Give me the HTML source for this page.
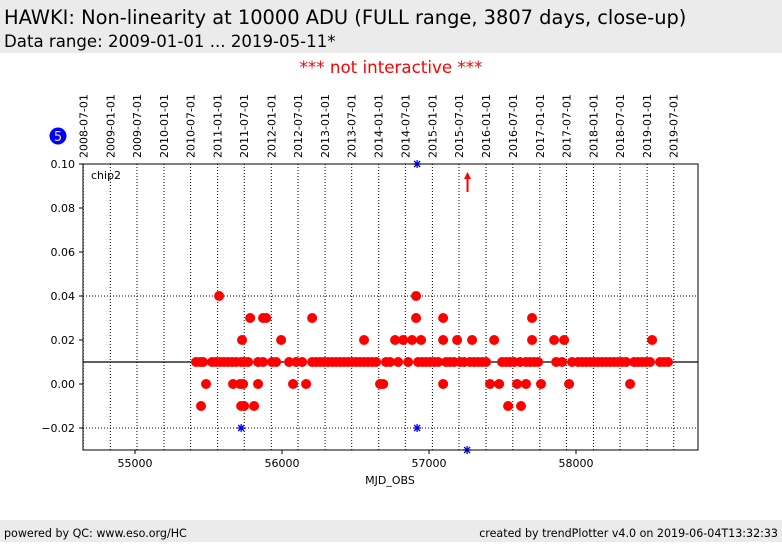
<!DOCTYPE html>
<html><head><meta charset="utf-8"><style>
body{margin:0;width:782px;height:542px;overflow:hidden;background:#fff;font-family:"DejaVu Sans","Liberation Sans",sans-serif;}
</style></head><body>
<svg id="c" width="782" height="542" xmlns="http://www.w3.org/2000/svg" font-family="DejaVu Sans, Liberation Sans, sans-serif">
<rect x="0" y="0" width="782" height="53" fill="#ebebeb"/>
<text x="4" y="24" font-size="19.4" fill="#000">HAWKI: Non-linearity at 10000 ADU (FULL range, 3807 days, close-up)</text>
<text x="4" y="47" font-size="16.6" fill="#000">Data range: 2009-01-01 ... 2019-05-11*</text>
<text x="391" y="73" font-size="16.7" fill="#ff0000" text-anchor="middle">*** not interactive ***</text>
<rect x="0" y="520" width="782" height="22" fill="#ebebeb"/>
<text x="4" y="537" font-size="11.1">powered by QC: www.eso.org/HC</text>
<text x="778" y="537" font-size="11.1" text-anchor="end">created by trendPlotter v4.0 on 2019-06-04T13:32:33</text>
<circle cx="58" cy="136" r="8.5" fill="#0000ff"/>
<text x="58" y="141" font-size="13" fill="#ffe066" text-anchor="middle">5</text>
<g id="grid"></g>
<g id="marks"></g>
<rect x="83" y="164" width="615" height="286" fill="none" stroke="#000" stroke-width="1"/>
<text x="91" y="179" font-size="11">chip2</text>
<text x="390" y="484" font-size="11" text-anchor="middle">MJD_OBS</text>
</svg>
<script>
const yTicks=[0.10,0.08,0.06,0.04,0.02,0.00,-0.02];
const yGrid=[0.04,-0.02];
const xTicks=[55000,56000,57000,58000];
const dateLabels=["2008-07-01","2009-01-01","2009-07-01","2010-01-01","2010-07-01","2011-01-01","2011-07-01","2012-01-01","2012-07-01","2013-01-01","2013-07-01","2014-01-01","2014-07-01","2015-01-01","2015-07-01","2016-01-01","2016-07-01","2017-01-01","2017-07-01","2018-01-01","2018-07-01","2019-01-01","2019-07-01"];
const refValue=0.01;
const mjd010=[55415,55443,55463,55524,55551,55579,55606,55633,55660,55688,55722,55742,55769,55837,55871,55932,55960,56048,56096,56137,56205,56232,56259,56286,56313,56341,56368,56395,56422,56449,56477,56504,56531,56558,56585,56613,56640,56708,56735,56790,56858,56926,56953,56980,57007,57035,57062,57116,57143,57170,57211,57239,57279,57307,57334,57361,57388,57497,57524,57552,57579,57620,57660,57688,57715,57742,57865,57905,57973,58014,58041,58069,58096,58123,58150,58177,58205,58232,58259,58286,58313,58341,58395,58422,58449,58477,58504,58572,58599,58626];
const mjd000=[55483,55667,55715,55735,55837,56075,56164,56667,56688,57096,57415,57477,57599,57660,57762,57953,58368];
const mjdm010=[55449,55722,55742,55810,57538,57626];
const mjd020=[55728,55994,56558,56769,56824,56885,56946,57096,57191,57293,57443,57701,57851,57919,58518];
const mjd030=[55783,55871,55892,56205,56912,57096,57701];
const mjd040=[55572,56912];
const outMjd=[55722,56919,56919,57259];
const outVal=[-0.02,-0.02,0.10,-0.03];
const arrowMjd=57262;

const X0=83,X1=698,Y0=164,Y1=450,XMIN=54646,XMAX=58830,YMIN=-0.03,YMAX=0.10;
const sx=m=>X0+(m-XMIN)/(XMAX-XMIN)*(X1-X0);
const sy=v=>Y1-(v-YMIN)/(YMAX-YMIN)*(Y1-Y0);
const NS="http://www.w3.org/2000/svg";
const grid=document.getElementById('grid'),marks=document.getElementById('marks'),svg=document.getElementById('c');
function mk(t,a,p){const e=document.createElementNS(NS,t);for(const k in a)e.setAttribute(k,a[k]);(p||svg).appendChild(e);return e;}
function dateToMjd(s){const [y,m,d]=s.split('-').map(Number);return Date.UTC(y,m-1,d)/86400000+40587;}
dateLabels.forEach(s=>{const x=sx(dateToMjd(s));
 const l=mk('line',{x1:x,x2:x,y1:Y0,y2:Y1,stroke:'#000','stroke-width':1,'stroke-dasharray':'1,2'},grid);
 
 
 const t=mk('text',{x:0,y:0,'font-size':11,transform:`translate(${x+4},158) rotate(-90)`});
 t.textContent=s;
 
 
});
yGrid.forEach(v=>{const l=mk('line',{x1:X0,x2:X1,y1:sy(v),y2:sy(v),stroke:'#000','stroke-width':1,'stroke-dasharray':'1,2'},grid);
 
 });
yTicks.forEach(v=>{const y=sy(v);mk('line',{x1:X0-4,x2:X0,y1:y,y2:y,stroke:'#000'});
 const t=mk('text',{x:X0-8,y:y+4,'font-size':11,'text-anchor':'end'});t.textContent=(v<0?'\u22120.':'0.')+Math.abs(v).toFixed(2).slice(2);
 
 });
xTicks.forEach(v=>{const x=sx(v);mk('line',{x1:x,x2:x,y1:Y1,y2:Y1+4,stroke:'#000'});
 const t=mk('text',{x:x,y:Y1+17,'font-size':11,'text-anchor':'middle'});t.textContent=v;
 
 });
const ref=mk('line',{x1:X0,x2:X1,y1:sy(refValue),y2:sy(refValue),stroke:'#000','stroke-width':1.2},grid);


[[mjd040,0.04],[mjd030,0.03],[mjd020,0.02],[mjd010,0.01],[mjd000,0.00],[mjdm010,-0.01]].forEach(([arr,v])=>{
 arr.forEach(m=>{const c=mk('circle',{cx:sx(m),cy:sy(v),r:5,fill:'#ff0000'},marks);
  
  });
});
outMjd.forEach((m,i)=>{const x=sx(m),y=sy(outVal[i]);
 const g=mk('g',{stroke:'#0000ff','stroke-width':1.3},marks);
 
 
 mk('line',{x1:x-4,x2:x+4,y1:y,y2:y},g);mk('line',{x1:x,x2:x,y1:y-4,y2:y+4},g);
 mk('line',{x1:x-3,x2:x+3,y1:y-3,y2:y+3},g);mk('line',{x1:x-3,x2:x+3,y1:y+3,y2:y-3},g);
});
const ax=sx(arrowMjd);
const ar=mk('g',{},marks);


mk('line',{x1:ax,x2:ax,y1:192,y2:178,stroke:'#ff0000','stroke-width':2},ar);
mk('polygon',{points:`${ax-3.5},179 ${ax+3.5},179 ${ax},172`,fill:'#ff0000'},ar);
</script>
</body></html>
